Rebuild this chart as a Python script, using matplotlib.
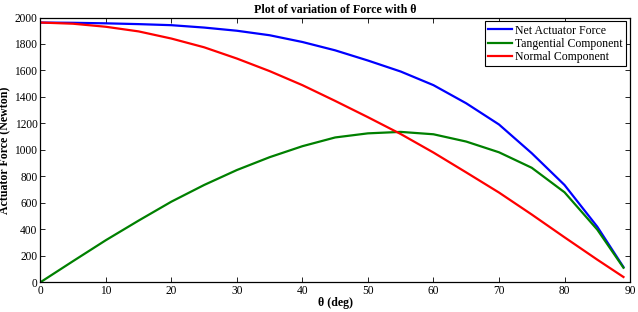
import matplotlib
matplotlib.use("Agg")
import matplotlib.pyplot as plt

# angle samples (deg) and forces (N)
theta = [0, 5, 10, 15, 20, 25, 30, 35, 40, 45, 50, 55, 60, 65, 70, 75, 80, 85, 89]
net_force = [1962, 1960, 1956, 1950, 1942, 1924, 1900, 1866, 1815, 1752, 1675, 1592,
             1489, 1352, 1192, 975, 735, 420, 115]
tangential = [0, 160, 318, 466, 609, 735, 848, 945, 1028, 1094, 1125, 1136,
              1118, 1063, 982, 865, 680, 398, 110]
normal = [1962, 1953, 1930, 1895, 1841, 1775, 1690, 1595, 1489, 1370, 1247, 1120,
          980, 830, 678, 512, 340, 171, 40]

xticks = list(range(0, 91, 10))
yticks = list(range(0, 2001, 200))

plt.rcParams["font.family"] = ["Liberation Serif", "DejaVu Serif"]

fig = plt.figure(figsize=(6.38, 3.12), dpi=100)
ax = fig.add_axes([0.0632, 0.0952, 0.9243, 0.8487])

ax.plot(theta, net_force, color="#0000ff", lw=1.6, label="Net Actuator Force")
ax.plot(theta, tangential, color="#008000", lw=1.6, label="Tangential Component")
ax.plot(theta, normal, color="#ff0000", lw=1.6, label="Normal Component")

ax.set_xlim(0, 90)
ax.set_ylim(0, 2000)
ax.set_xticks(xticks)
ax.set_yticks(yticks)
ax.tick_params(direction="in", length=3.5, width=0.6, top=True, right=True,
               labelsize=8.3, pad=2)
for s in ax.spines.values():
    s.set_linewidth(0.9)

ax.set_title("Plot of variation of Force with θ", fontsize=8.6, fontweight="bold", pad=3)
ax.set_xlabel("θ (deg)", fontsize=8.6, fontweight="bold", labelpad=0)
ax.set_ylabel("Actuator Force (Newton)", fontsize=8.6, fontweight="bold", labelpad=2)

leg = ax.legend(loc="upper right", fontsize=8.5, fancybox=False, framealpha=1,
                edgecolor="black", handlelength=2.0, borderpad=0.3,
                labelspacing=0.1, handletextpad=0.3, borderaxespad=0.3)
leg.get_frame().set_linewidth(0.8)

fig.savefig("out.png", dpi=100)
